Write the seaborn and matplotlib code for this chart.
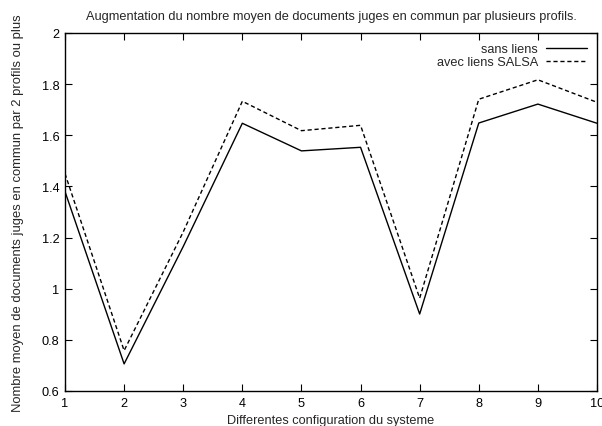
import matplotlib
matplotlib.use("Agg")
import matplotlib.pyplot as plt
import seaborn as sns
import pandas as pd

configs = [1, 2, 3, 4, 5, 6, 7, 8, 9, 10]
sans_liens = [1.38, 0.706, 1.165, 1.647, 1.539, 1.553, 0.901, 1.648, 1.722, 1.647]
avec_salsa = [1.45, 0.758, 1.222, 1.733, 1.618, 1.639, 0.963, 1.741, 1.817, 1.729]
series_names = ["sans liens", "avec liens SALSA"]
y_ticks = [0.6, 0.8, 1.0, 1.2, 1.4, 1.6, 1.8, 2.0]
y_tick_labels = ["0.6", "0.8", "1", "1.2", "1.4", "1.6", "1.8", "2"]

df = pd.DataFrame({
    "config": configs * 2,
    "valeur": sans_liens + avec_salsa,
    "serie": [series_names[0]] * len(configs) + [series_names[1]] * len(configs),
})

sns.set_style("ticks")
plt.rcParams["font.family"] = ["Liberation Sans", "DejaVu Sans"]
plt.rcParams["font.size"] = 9

fig = plt.figure(figsize=(6.02, 4.27), dpi=100)
ax = fig.add_axes([65 / 602, 35 / 427, 532 / 602, 358 / 427])

sns.lineplot(
    data=df, x="config", y="valeur", hue="serie", style="serie",
    palette={series_names[0]: "black", series_names[1]: "black"},
    dashes={series_names[0]: "", series_names[1]: (3, 2)},
    linewidth=1.0, ax=ax, legend=True,
)

ax.set_xlim(1, 10)
ax.set_ylim(0.6, 2.0)
ax.set_xticks(configs)
ax.set_xticklabels([str(c) for c in configs])
ax.set_yticks(y_ticks)
ax.set_yticklabels(y_tick_labels)
ax.tick_params(direction="in", length=5, width=0.8, top=True, right=True,
               labelsize=9.2, colors="black", pad=4)
for sp in ax.spines.values():
    sp.set_visible(True)
    sp.set_linewidth(1.0)
    sp.set_color("black")

ax.set_xlabel("Differentes configuration du systeme", fontsize=9.2, labelpad=4)
ax.set_ylabel("Nombre moyen de documents juges en commun par 2 profils ou plus",
              fontsize=9.4, labelpad=13)
ax.set_title("Augmentation du nombre moyen de documents juges en commun par plusieurs profils.",
             fontsize=9.2, pad=10)

handles, labels = ax.get_legend_handles_labels()
leg = ax.legend(handles, labels, loc="upper right", frameon=False,
                markerfirst=False, fontsize=9.2, handlelength=3.2,
                handletextpad=0.6, labelspacing=0.1, borderaxespad=0.4)
for t in leg.get_texts():
    t.set_ha("right")

fig.savefig("out.png", dpi=100)
